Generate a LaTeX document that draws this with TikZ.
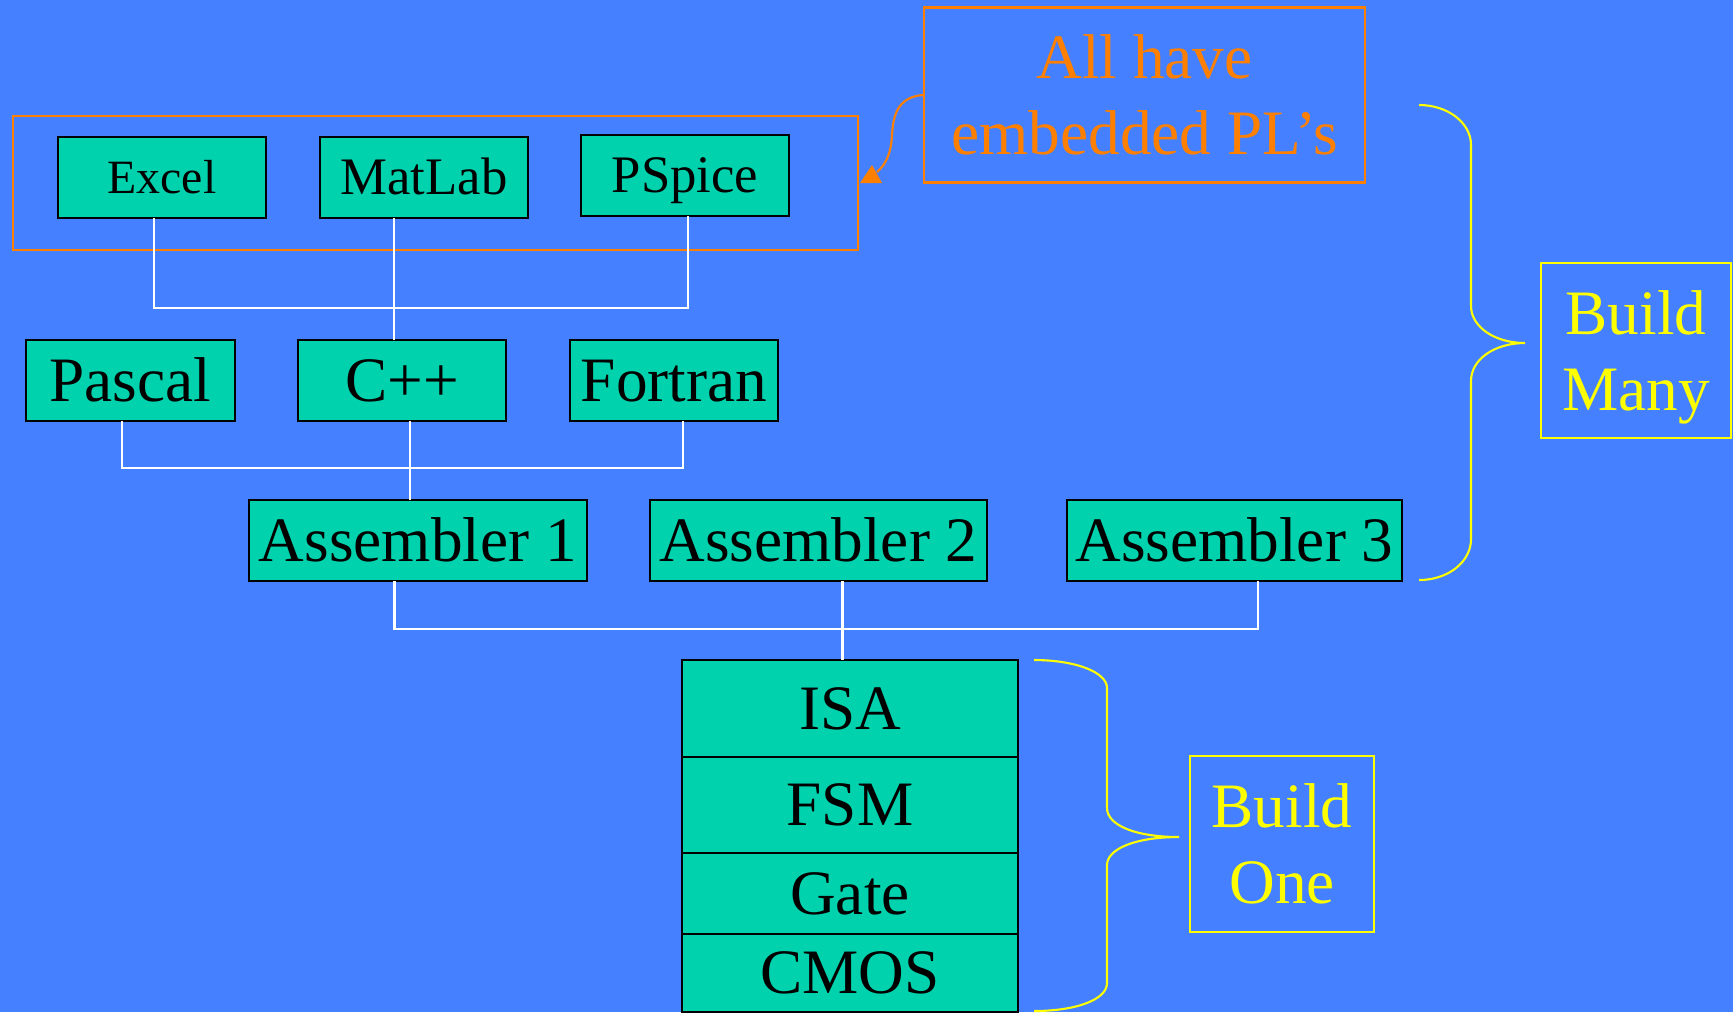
\documentclass[tikz,border=0pt]{standalone}
\usepackage{fontspec}
\setmainfont{Liberation Serif}
\usepackage{tikz}
\usetikzlibrary{calc}

\definecolor{slideblue}{RGB}{68,128,255}
\definecolor{boxteal}{RGB}{0,210,174}
\definecolor{noteorange}{RGB}{255,128,0}
\definecolor{braceyellow}{RGB}{255,255,0}

\tikzset{
  lang/.style={draw=black, line width=0.7pt, fill=boxteal, inner sep=0pt, outer sep=0pt,
    minimum width=2.08cm, minimum height=0.81cm,
    text height=11.9pt, text depth=0pt, font=\fontsize{18}{21.6}\selectfont},
  app/.style={lang, text height=9.9pt, font=\fontsize{15}{18}\selectfont},
  link/.style={draw=white, line width=0.6pt},
  brace/.style={draw=braceyellow, line width=0.6pt},
  remark/.style={line width=0.6pt, align=center, inner sep=0pt,
    font=\fontsize{18}{21.6}\selectfont},
}

\begin{document}
\begin{tikzpicture}
    \path[use as bounding box, fill=slideblue] (0,0) rectangle (17.33,-10.12);

    % applications
    \node[draw=noteorange, line width=0.6pt, minimum width=8.45cm, minimum height=1.34cm] at (4.355,-1.83) (apps) {};
    \node[app, text height=9.0pt, font=\fontsize{13.6}{16.3}\selectfont] at (1.62,-1.775) (excel) {Excel};
    \node[app] at (4.24,-1.775) (matlab) {MatLab};
    \node[app] at (6.85,-1.755) (pspice) {PSpice};

    % languages
    \node[lang, minimum width=2.09cm] at (1.305,-3.805) (pascal) {Pascal};
    \node[lang] at (4.02,-3.805) (cpp) {C++};
    \node[lang] at (6.74,-3.805) (fortran) {Fortran};

    \node[lang, minimum width=3.38cm] at (4.18,-5.405) (asm1) {Assembler 1};
    \node[lang, minimum width=3.37cm] at (8.185,-5.405) (asm2) {Assembler 2};
    \node[lang, minimum width=3.35cm] at (12.345,-5.405) (asm3) {Assembler 3};

    % the one machine
    \node[lang, minimum width=3.36cm, minimum height=0.97cm] at (8.50,-7.085) (isa) {ISA};
    \node[lang, minimum width=3.36cm, minimum height=0.96cm, anchor=north] at (isa.south) (fsm) {FSM};
    \node[lang, minimum width=3.36cm, minimum height=0.81cm, anchor=north] at (fsm.south) (gate) {Gate};
    \node[lang, minimum width=3.36cm, minimum height=0.78cm, anchor=north] at (gate.south) (cmos) {CMOS};

    \coordinate (b1l) at (1.54,-3.08);  \coordinate (b1m) at (3.94,-3.08);  \coordinate (b1r) at (6.88,-3.08);
    \coordinate (b2l) at (1.22,-4.68);  \coordinate (b2m) at (4.10,-4.68);  \coordinate (b2r) at (6.83,-4.68);
    \coordinate (b3l) at (3.945,-6.29); \coordinate (b3m) at (8.425,-6.29); \coordinate (b3r) at (12.58,-6.29);

    \draw[link] (excel.south -| b1l) -- (b1l) -- (b1r) -- (pspice.south -| b1r);
    \draw[link] (matlab.south -| b1m) -- (cpp.north -| b1m);
    \draw[link] (pascal.south -| b2l) -- (b2l) -- (b2r) -- (fortran.south -| b2r);
    \draw[link] (cpp.south -| b2m) -- (asm1.north -| b2m);
    \draw[link] (asm1.south -| b3l) -- (b3l) -- (b3r) -- (asm3.south -| b3r);
    \draw[link] (asm2.south -| b3m) -- (isa.north -| b3m);

    % remarks
    \node[remark, draw=noteorange, text=noteorange, minimum width=4.41cm, minimum height=1.75cm] at (11.445,-0.95) (note) {All have\\embedded PL’s};
    \node[remark, draw=braceyellow, text=braceyellow, text depth=0pt, minimum width=1.90cm, minimum height=1.75cm] at (16.36,-3.505) (many) {Build\\Many};
    \node[remark, draw=braceyellow, text=braceyellow, minimum width=1.84cm, minimum height=1.76cm] at (12.82,-8.44) (one) {Build\\One};

    \coordinate (tip) at (8.77,-1.72);
    \draw[noteorange, line width=0.6pt] (note.west) .. controls (8.95,-0.97) and (8.93,-1.20) .. (8.92,-1.35)
        .. controls (8.91,-1.55) and (8.85,-1.65) .. (tip);
    \fill[noteorange] (8.72,-1.65) -- (8.60,-1.83) -- (8.82,-1.83) -- cycle;

    \draw[brace] (14.19,-1.05) .. controls (14.48,-1.05) and (14.71,-1.23) .. (14.71,-1.45) -- (14.71,-3.06)
        .. controls (14.71,-3.27) and (14.95,-3.43) .. (15.25,-3.43)
        .. controls (14.95,-3.43) and (14.71,-3.59) .. (14.71,-3.81) -- (14.71,-5.39)
        .. controls (14.71,-5.62) and (14.48,-5.80) .. (14.19,-5.80);
    \draw[brace] (10.34,-6.60) .. controls (10.75,-6.60) and (11.07,-6.72) .. (11.07,-6.88) -- (11.07,-8.08)
        .. controls (11.07,-8.25) and (11.35,-8.37) .. (11.79,-8.37)
        .. controls (11.35,-8.37) and (11.07,-8.49) .. (11.07,-8.65) -- (11.07,-9.83)
        .. controls (11.07,-10.00) and (10.75,-10.11) .. (10.34,-10.11);
\end{tikzpicture}
\end{document}
